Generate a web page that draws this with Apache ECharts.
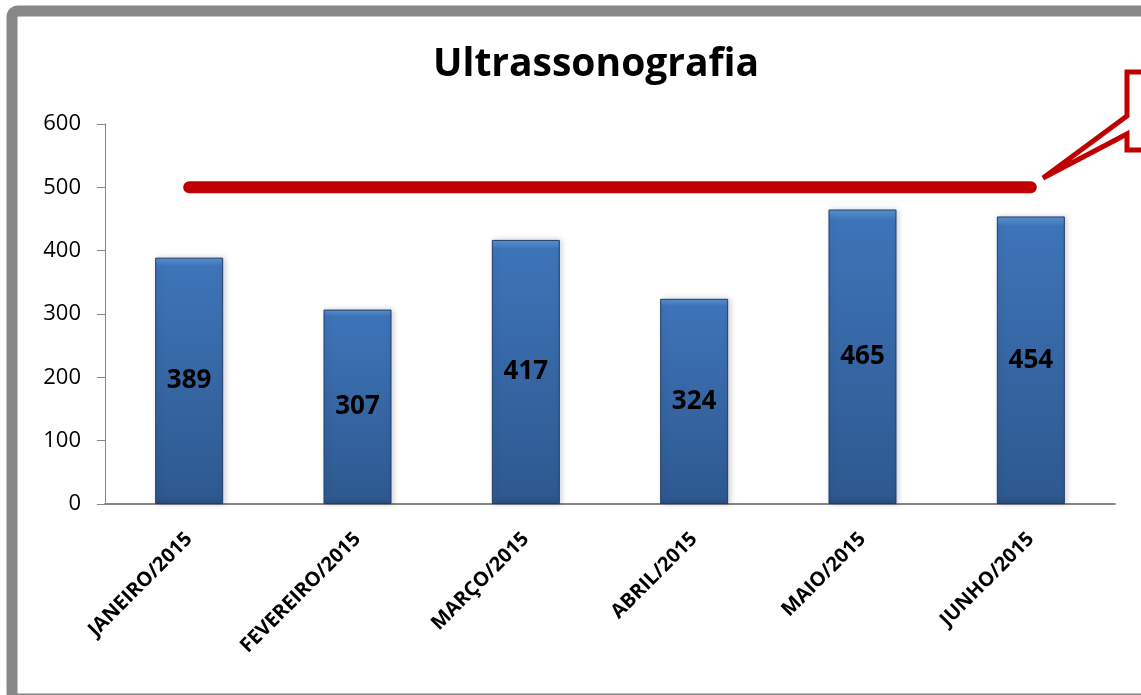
<!DOCTYPE html>
<html>
<head>
<meta charset="utf-8">
<script src="https://cdn.jsdelivr.net/npm/echarts@6/dist/echarts.min.js"></script>
<style>
html,body{margin:0;padding:0;background:#fff;}
#main{width:1141px;height:695px;}
</style>
</head>
<body>
<div id="main"></div>
<script>
//dados do gráfico
var meses = ['JANEIRO/2015','FEVEREIRO/2015','MARÇO/2015','ABRIL/2015','MAIO/2015','JUNHO/2015'];
var exames = [389, 307, 417, 324, 465, 454];
var meta = [500, 500, 500, 500, 500, 500];
var yTicks = [0, 100, 200, 300, 400, 500, 600];

var myChart = echarts.init(document.getElementById('main'));

var option = {
	animation: false,
	title: {
		text: 'Ultrassonografia',
		left: 428,
		top: 40,
		textStyle: {
			fontFamily: 'Open Sans',
			fontWeight: 'bold',
			fontSize: 39,
			color: '#000'
		}
	},
	grid: {
		left: 105,
		right: 26,
		top: 124,
		bottom: 191
	},
	xAxis: {
		type: 'category',
		data: meses,
		axisLine: {lineStyle: {color: '#868686', width: 2}},
		axisTick: {show: false},
		axisLabel: {
			rotate: 45,
			margin: 32,
			interval: 0,
			color: '#000',
			fontFamily: 'Open Sans',
			fontWeight: 'bold',
			fontSize: 20
		}
	},
	yAxis: {
		type: 'value',
		min: yTicks[0],
		max: yTicks[yTicks.length - 1],
		interval: 100,
		splitLine: {show: false},
		axisLine: {show: true, lineStyle: {color: '#868686', width: 1}},
		axisTick: {show: true, length: 8, lineStyle: {color: '#868686'}},
		axisLabel: {
			margin: 24,
			color: '#000',
			fontFamily: 'Open Sans',
			fontSize: 22
		}
	},
	series: [{
		type: 'bar',
		data: exames,
		barWidth: 68,
		itemStyle: {
			color: new echarts.graphic.LinearGradient(0, 0, 0, 1, [
				{offset: 0, color: '#5a93d4'},
				{offset: 0.035, color: '#3d74b8'},
				{offset: 0.97, color: '#2e5990'},
				{offset: 1, color: '#284f82'}
			]),
			borderColor: '#1f3c68',
			borderWidth: 1,
			shadowColor: 'rgba(0,0,0,0.18)',
			shadowBlur: 6,
			shadowOffsetX: 2
		},
		label: {
			show: true,
			position: 'inside',
			color: '#000',
			fontFamily: 'Open Sans',
			fontWeight: 'bold',
			fontSize: 26
		}
	}, {
		type: 'line',
		data: meta,
		symbol: 'none',
		lineStyle: {color: '#C00000', width: 12, cap: 'round'},
		z: 5
	}],
	graphic: [{
		//moldura cinza
		type: 'rect',
		shape: {x: 12, y: 11, width: 1160, height: 688, r: 6},
		style: {fill: 'none', stroke: '#878787', lineWidth: 11},
		z: 100
	}, {
		//balão de texto cortado na borda
		type: 'polyline',
		shape: {points: [[1185, 72], [1127, 72], [1127, 116], [1043, 178], [1127, 134], [1127, 150], [1185, 150]]},
		style: {fill: '#fff', stroke: '#C00000', lineWidth: 5},
		z: 90
	}]
};

myChart.setOption(option);
</script>
</body>
</html>
